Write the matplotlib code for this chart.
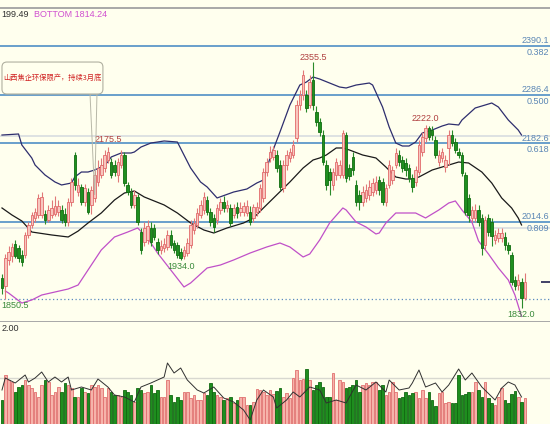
import numpy as np
import matplotlib
matplotlib.use("Agg")
import matplotlib.pyplot as plt
from matplotlib import font_manager
from matplotlib.patches import FancyBboxPatch, Polygon

# daily candles, oldest first
opens = [1896.0, 1878.9, 1934.3, 1942.8, 1968.4, 1959.9, 1945.0, 1945.0, 1987.6, 2008.9,
         2023.8, 2030.2, 2030.2, 2032.3, 2019.5, 2030.2, 2032.3, 2036.5, 2040.8, 2032.3,
         2015.2, 2057.9, 2157.9, 2079.1, 2089.8, 2057.9, 2079.1, 2051.5, 2066.4, 2100.5,
         2115.4, 2130.3,
         2147.3, 2143.0, 2136.6, 2115.4, 2136.6, 2157.9, 2094.1, 2079.1, 2051.5, 2068.5,
         1993.9, 1972.6, 1976.9, 2002.5, 2002.5, 1972.6, 1955.6, 1959.9, 1962.0, 1987.6,
         1970.5, 1966.3, 1951.3, 1942.8, 1949.2, 1966.3, 1998.2, 2008.9, 2030.2, 2040.8, 2062.1, 2036.5,
         2023.8, 2019.5, 2040.8, 2057.9, 2045.1, 2045.1, 2030.2, 2047.2, 2036.5, 2036.5,
         2034.4, 2036.5, 2023.8, 2036.5, 2045.1, 2066.4, 2121.7, 2151.6, 2153.7, 2157.9,
         2136.6, 2087.7, 2136.6, 2151.6, 2157.9, 2194.2, 2264.4, 2285.8, 2285.8, 2264.4,
         2317.7, 2249.5, 2228.2, 2200.5,
         2136.6, 2121.7, 2094.1, 2115.4, 2115.4, 2115.4, 2200.5, 2130.3, 2153.7, 2094.1,
         2072.8, 2057.9, 2066.4, 2072.8, 2079.1, 2083.4, 2104.7, 2100.5, 2057.9, 2094.1,
         2104.7, 2136.6, 2157.9, 2147.3, 2140.9, 2130.3, 2109.0, 2100.5, 2121.7, 2164.3, 2194.2,
         2215.5, 2211.2, 2189.9, 2143.0, 2151.6, 2132.4, 2172.9, 2200.5, 2185.6, 2164.3,
         2157.9, 2115.4, 2066.4, 2023.8, 2023.8, 2040.8, 2023.8, 1966.3, 2023.8, 2015.2,
         1976.9, 1981.2, 1981.2, 1983.3, 1966.3, 1945.0, 1891.7, 1881.0, 1887.4, 1853.4]
highs = [1904.5, 1947.0, 1964.1, 1970.5, 1976.9, 1966.3, 1955.6, 1993.9, 2015.2, 2036.5,
         2045.1, 2074.9, 2079.1, 2040.8, 2051.5, 2062.1, 2070.6, 2062.1, 2051.5, 2045.1,
         2066.4, 2109.0, 2164.3, 2109.0, 2096.2, 2096.2, 2087.7, 2091.9, 2126.0, 2147.3,
         2151.6, 2168.6,
         2175.5, 2151.6, 2147.3, 2151.6, 2168.6, 2164.3, 2100.5, 2087.7, 2083.4, 2074.9,
         2002.5, 2015.2, 2019.5, 2015.2, 2011.0, 1981.2, 1976.9, 1981.2, 1998.2, 1998.2,
         1976.9, 1972.6, 1959.9, 1964.1, 1981.2, 2019.5, 2023.8, 2045.1, 2062.1, 2079.1, 2070.6, 2045.1,
         2032.3, 2053.6, 2066.4, 2070.6, 2062.1, 2053.6, 2053.6, 2057.9, 2057.9, 2057.9,
         2062.1, 2049.3, 2053.6, 2057.9, 2096.2, 2130.3, 2151.6, 2177.1, 2177.1, 2168.6,
         2147.3, 2147.3, 2168.6, 2172.9, 2189.9, 2275.1, 2296.4, 2339.0, 2296.4, 2328.4,
         2355.5, 2262.3, 2236.8, 2211.2,
         2147.3, 2130.3, 2130.3, 2151.6, 2147.3, 2211.2, 2206.9, 2138.8, 2164.3, 2104.7,
         2083.4, 2091.9, 2096.2, 2104.7, 2109.0, 2113.2, 2113.2, 2109.0, 2096.2, 2147.3,
         2134.5, 2172.9, 2168.6, 2155.8, 2151.6, 2138.8, 2117.5, 2134.5, 2189.9, 2206.9, 2222.0,
         2219.7, 2219.7, 2198.4, 2168.6, 2172.9, 2157.9, 2211.2, 2211.2, 2194.2, 2172.9,
         2164.3, 2121.7, 2074.9, 2049.3, 2053.6, 2051.5, 2032.3, 2028.0, 2032.3, 2023.8,
         1998.2, 2002.5, 2002.5, 1993.9, 1972.6, 1951.3, 1900.2, 1904.5, 1896.0, 1906.6]
lows = [1862.0, 1850.5, 1923.6, 1930.0, 1938.6, 1930.0, 1921.5, 1938.6, 1981.2, 2002.5,
        2015.2, 2023.8, 2023.8, 2011.0, 2015.2, 2023.8, 2028.0, 2028.0, 2013.1, 2006.7,
        2006.7, 2049.3, 2083.4, 2070.6, 2051.5, 2049.3, 2032.3, 2032.3, 2057.9, 2091.9,
        2109.0, 2121.7,
        2140.9, 2109.0, 2113.2, 2100.5, 2130.3, 2091.9, 2072.8, 2045.1, 2045.1, 2008.9,
        1947.1, 1964.1, 1968.4, 1964.1, 1976.9, 1947.1, 1947.1, 1951.3, 1955.6, 1959.9,
        1949.2, 1938.6, 1934.0, 1936.5, 1942.8, 1959.9, 1989.7, 2002.5, 2023.8, 2032.3, 2030.2, 2006.7,
        1993.9, 2011.0, 2032.3, 2036.5, 2036.5, 2006.7, 2023.8, 2023.8, 2028.0, 2028.0,
        2028.0, 2008.9, 2015.2, 2028.0, 2036.5, 2057.9, 2113.2, 2143.0, 2147.3, 2121.7,
        2083.4, 2079.1, 2126.0, 2143.0, 2151.6, 2185.6, 2253.8, 2275.1, 2249.5, 2258.1,
        2253.8, 2219.7, 2198.4, 2136.6,
        2083.4, 2072.8, 2083.4, 2104.7, 2109.0, 2109.0, 2100.5, 2104.7, 2115.4, 2049.3,
        2040.8, 2049.3, 2057.9, 2062.1, 2070.6, 2074.9, 2072.8, 2051.5, 2049.3, 2087.7,
        2096.2, 2130.3, 2134.5, 2121.7, 2113.2, 2100.5, 2079.1, 2091.9, 2115.4, 2155.8, 2185.6,
        2189.9, 2189.9, 2151.6, 2134.5, 2143.0, 2121.7, 2136.6, 2177.1, 2162.2, 2151.6,
        2113.2, 2030.2, 2015.2, 2015.2, 2015.2, 2006.7, 1945.0, 1955.6, 1985.4, 1964.1,
        1968.4, 1972.6, 1972.6, 1955.6, 1947.1, 1881.0, 1870.4, 1870.4, 1832.0, 1849.1]
closes = [1874.7, 1938.6, 1951.3, 1962.0, 1942.8, 1938.6, 1930.0, 1987.6, 2008.9, 2030.2,
          2036.5, 2066.4, 2068.5, 2019.5, 2040.8, 2045.1, 2049.3, 2049.3, 2019.5, 2015.2,
          2057.9, 2100.5, 2094.1, 2094.1, 2057.9, 2087.7, 2036.5, 2083.4, 2115.4, 2130.3,
          2136.6, 2157.9,
          2164.3, 2115.4, 2121.7, 2143.0, 2157.9, 2098.3, 2079.1, 2051.5, 2072.8, 2015.2,
          1955.6, 2002.5, 2006.7, 1972.6, 1983.3, 1955.6, 1964.1, 1968.4, 1987.6, 1966.3,
          1955.6, 1945.0, 1938.6, 1955.6, 1970.5, 2008.9, 2013.1, 2034.4, 2051.5, 2068.5, 2036.5, 2015.2,
          2004.6, 2045.1, 2057.9, 2045.1, 2051.5, 2013.1, 2045.1, 2034.4, 2045.1, 2049.3,
          2049.3, 2015.2, 2047.2, 2047.2, 2087.7, 2121.7, 2143.0, 2164.3, 2168.6, 2130.3,
          2089.8, 2136.6, 2157.9, 2164.3, 2179.3, 2264.4, 2285.8, 2328.4, 2258.1, 2313.4,
          2264.4, 2228.2, 2206.9, 2143.0,
          2094.1, 2104.7, 2121.7, 2143.0, 2136.6, 2204.8, 2109.0, 2113.2, 2126.0, 2057.9,
          2057.9, 2079.1, 2083.4, 2089.8, 2098.3, 2100.5, 2083.4, 2057.9, 2087.7, 2136.6,
          2126.0, 2162.2, 2143.0, 2130.3, 2126.0, 2109.0, 2089.8, 2126.0, 2179.3, 2196.3, 2215.5,
          2196.3, 2200.5, 2157.9, 2157.9, 2164.3, 2147.3, 2200.5, 2183.5, 2168.6, 2157.9,
          2119.6, 2036.5, 2030.2, 2040.8, 2040.8, 2015.2, 1959.9, 2019.5, 1993.9, 1985.4,
          1987.6, 1991.8, 1991.8, 1966.3, 1955.6, 1887.4, 1878.9, 1891.7, 1853.4, 1887.4]

volumes = [24, 49, 44, 42, 32, 37, 39, 44, 39, 36,
           32, 27, 39, 44, 42, 29, 32, 37, 32, 41,
           39, 36, 27, 27, 36, 32, 31, 39, 37, 39,
           36, 27, 36, 32, 29, 29, 27, 34, 32, 29,
           22, 36, 34, 31, 32, 39, 31, 34, 27, 27,
           44, 29, 22, 27, 24, 32, 32, 26, 29, 24,
           24, 31, 29, 41, 32, 29, 27, 24, 26, 27,
           21, 24, 27, 27, 19, 19, 22, 35, 34, 32,
           29, 34, 30, 33,
           36, 27, 31, 26, 46, 54, 44, 45, 55, 44,
           34, 39, 42, 37, 27, 27, 51, 24, 44, 42,
           36, 37, 39, 44, 32, 39, 41, 39, 42, 42,
           34, 39, 29, 32, 42, 32, 26, 27, 32, 29,
           31, 32, 26, 34, 26, 32, 24, 18, 31, 32,
           21, 22, 21, 21, 49, 29, 30, 32, 32, 42,
           34, 27, 42, 26, 21, 19, 27, 36, 24, 21,
           30, 33, 27, 22, 26]

# volume average line (bar index, value)
vol_ma_idx = [0, 1, 4, 7, 8, 10, 12, 14, 16, 18, 20, 21, 24, 27, 29, 32, 34, 37, 40, 42,
              45, 47, 49, 50, 52, 54, 56, 59, 61, 64, 67, 70, 73, 75, 77, 79, 82,
              83, 86, 88, 90, 93, 96, 98, 101, 104, 107, 110, 113, 116, 117, 120, 123, 124,
              126, 128, 131, 133, 135, 138, 140, 142, 145, 149, 151, 153, 155, 157]
vol_ma = [34, 46, 41, 49, 42, 46, 52, 42, 47, 42, 47, 34, 37, 34, 45, 37, 29, 27, 22, 37,
          41, 44, 47, 61, 51, 56, 44, 34, 31, 37, 26, 22, 14, 4, 24, 34, 27,
          16, 24, 32, 27, 37, 34, 21, 24, 21, 39, 34, 42, 32, 44, 34, 36, 41,
          54, 37, 41, 32, 39, 55, 44, 51, 37, 24, 36, 42, 39, 27]

# channel lines (bar index, price)
upper_idx = [0, 5, 6, 9, 10, 13, 16, 18, 21, 22, 24, 26, 28, 30, 32, 33, 36, 39, 40, 42,
             45, 47, 49, 53, 55, 57, 60, 62, 65, 70, 74, 77, 79, 81, 84, 87, 90, 92, 94, 96,
             102, 104, 107, 111, 112, 115, 117, 119, 121, 123, 125, 127, 130, 133, 135, 138,
             139, 143, 145, 148, 150, 153, 156, 157]
upper = [2200.5, 2202.7, 2179.3, 2151.6, 2136.6, 2115.4, 2100.5, 2094.1, 2098.3, 2111.1,
         2121.7, 2121.7, 2126.0, 2132.4, 2143.0, 2153.7, 2162.2, 2162.2, 2164.3, 2174.9,
         2183.5, 2185.6, 2187.8, 2185.6, 2157.9, 2130.3, 2100.5, 2089.8, 2066.4, 2079.1,
         2085.5, 2098.3, 2104.7, 2151.6, 2206.9, 2264.4, 2307.0, 2313.4, 2324.1, 2319.8,
         2302.8, 2300.7, 2307.0, 2311.3, 2307.0, 2260.2, 2217.6, 2183.5, 2177.1, 2177.1,
         2185.6, 2204.8, 2211.2, 2219.7, 2224.0, 2221.9, 2232.5, 2258.1, 2262.3, 2268.7,
         2260.2, 2232.5, 2211.2, 2200.5]
mid_idx = [0, 3, 6, 9, 15, 20, 23, 26, 30, 34, 37, 40, 43, 49, 53, 57, 61, 64, 68, 73,
           76, 79, 83, 87, 91, 94, 96, 98, 101, 103, 105, 109, 113, 116, 119, 122, 124, 126,
           130, 135, 138, 141, 145, 148, 151, 154, 156, 157]
mid = [2045.1, 2030.2, 2017.4, 1993.9, 1987.6, 1983.3, 1995.9, 2013.1, 2034.4, 2062.1,
       2077.0, 2081.3, 2068.5, 2051.5, 2034.4, 2013.1, 1998.2, 1991.8, 2002.5, 2013.1,
       2023.8, 2045.1, 2072.8, 2100.5, 2130.3, 2147.3, 2151.6, 2157.9, 2172.9, 2172.9,
       2168.6, 2157.9, 2151.6, 2132.4, 2111.1, 2106.8, 2106.8, 2111.1, 2126.0, 2136.6,
       2143.0, 2140.9, 2121.7, 2098.3, 2066.4, 2045.1, 2023.8, 2008.9]
lower_idx = [1, 2, 6, 9, 12, 20, 23, 26, 30, 34, 38, 41, 44, 47, 51, 55, 57, 62, 66, 70,
             75, 80, 84, 87, 91, 93, 96, 99, 103, 104, 107, 110, 113, 114, 116, 119, 125,
             128, 132, 135, 137, 139, 142, 144, 147, 150, 153, 155, 157]
lower = [1868.3, 1863.9, 1842.6, 1849.1, 1859.7, 1872.5, 1881.0, 1913.0, 1955.6, 1983.3,
         1993.9, 2002.5, 1981.2, 1949.2, 1913.0, 1876.8, 1885.3, 1917.3, 1923.6, 1934.3,
         1949.2, 1962.0, 1970.5, 1962.0, 1940.7, 1947.1, 1976.9, 2013.1, 2045.1, 2040.8,
         2015.2, 2004.6, 1989.7, 1991.8, 2013.1, 2034.4, 2034.4, 2023.8, 2040.8, 2055.7,
         2060.0, 2040.8, 2015.2, 1974.8, 1947.1, 1917.3, 1891.7, 1859.7, 1814.2]

fib_levels = [2390.1, 2286.4, 2182.6, 2014.6]
fib_ratios = ["0.382", "0.500", "0.618", "0.809"]
grey_levels = [2198.4, 2002.5]
support_level = 1850.5

# marked extremes: bar index, price, text y
peaks = [(94, 2355.5, 2366.7), (32, 2175.5, 2190.9), (128, 2222.0, 2235.7)]
troughs = [(54, 1934.0, 1919.4), (157, 1832.0, 1817.2)]
first_low = (1850.5, 1836.3)

note_text = "山西焦企环保限产，持续3月底"
header_upper = "199.49"
header_bottom = "BOTTOM 1814.24"
vol_label = "2.00"

BG = "#FFFFEE"
UP_FACE, UP_EDGE = "#F8C6BE", "#E26A6A"
DN_FACE, DN_EDGE = "#1F8F1F", "#106C10"


def pick_font(names):
    for n in names:
        try:
            font_manager.findfont(n, fallback_to_default=False)
            return n
        except Exception:
            continue
    return "DejaVu Sans"


num_font = pick_font(["Liberation Sans Narrow", "Liberation Sans", "DejaVu Sans"])
cjk = ["Noto Sans CJK SC", "DejaVu Sans"]

o = np.array(opens)
h = np.array(highs)
l = np.array(lows)
c = np.array(closes)
n = len(c)
x = np.arange(n)
up = c >= o

fig = plt.figure(figsize=(5.5, 4.24), dpi=100, facecolor=BG)
ax = fig.add_axes([0, 1 - 322 / 424, 1, 314 / 424])
axv = fig.add_axes([0, 0, 1, 1 - 322 / 424])

xmin, xmax = -0.6, 165.6
for a in (ax, axv):
    a.set_facecolor(BG)
    a.set_xlim(xmin, xmax)
    a.set_xticks([])
    a.set_yticks([])
    for s in a.spines.values():
        s.set_visible(False)

ax.set_ylim(1802.2, 2471.1)
for side in ("top", "bottom"):
    ax.spines[side].set_visible(True)
    ax.spines[side].set_color("#A8A8A8")
    ax.spines[side].set_linewidth(1.4)

yt = ax.get_yaxis_transform()

# reference levels
for lv in grey_levels:
    ax.axhline(lv, color="#D8DDE0", lw=1.2, zorder=1)
for lv, r in zip(fib_levels, fib_ratios):
    ax.axhline(lv, color="#4F8FC6", lw=1.2, zorder=1)
    ax.text(0.998, lv + 11.5, f"{lv:.1f}", transform=yt, color="#5A86B5", fontsize=6.5,
            family=num_font, va="center", ha="right")
    ax.text(0.998, lv - 13.5, r, transform=yt, color="#5A86B5", fontsize=6.5,
            family=num_font, va="center", ha="right")
ax.axhline(support_level, color="#5A8AC0", lw=0.9, ls=(0, (1, 2)), zorder=1)

# channel
ax.plot(upper_idx, upper, color="#2E2E6E", lw=0.9, zorder=2)
ax.plot(mid_idx, mid, color="#1A1A1A", lw=0.9, zorder=2)
ax.plot(lower_idx, lower, color="#C050C8", lw=0.9, zorder=2)

# candles
wick_col = np.where(up, "#E07878", "#2A8A2A")
ax.vlines(x, l, h, colors=wick_col, lw=0.8, zorder=3)
body_lo = np.minimum(o, c)
body_h = np.maximum(np.abs(c - o), 1.5)
ax.bar(x[up], body_h[up], bottom=body_lo[up], width=0.76,
       color=UP_FACE, edgecolor=UP_EDGE, linewidth=0.6, zorder=4)
ax.bar(x[~up], body_h[~up], bottom=body_lo[~up], width=0.76,
       color=DN_FACE, edgecolor=DN_EDGE, linewidth=0.6, zorder=4)

# last price marker
ax.hlines(c[-1], 162.8, xmax, color="#202050", lw=1.2, zorder=3)

for i, p, ty in peaks:
    ax.text(i, ty, f"{p:.1f}", color="#B04040", fontsize=6.5, family=num_font,
            ha="center", va="center", zorder=6)
for i, p, ty in troughs:
    ax.text(i, ty, f"{p:.1f}", color="#3A8A3A", fontsize=6.5, family=num_font,
            ha="center", va="center", zorder=6)
ax.text(0.002, first_low[1], f"{first_low[0]:.1f}", transform=yt, color="#3A8A3A",
        fontsize=6.5, family=num_font, ha="left", va="center", zorder=6)

# news note with pointer
ptr = Polygon([(26.6, 2287.9), (28.0, 2072.8), (28.7, 2287.9)], closed=True,
              facecolor="none", edgecolor="#B8B8A8", lw=0.7, zorder=6)
ax.add_patch(ptr)
box = FancyBboxPatch((0.0, 2287.9), 30.5, 68.1,
                     boxstyle="round,pad=0,rounding_size=1.5", mutation_aspect=7.0,
                     facecolor=BG, edgecolor="#B0B0A0", lw=0.8, zorder=7)
ax.add_patch(box)
ax.text(15.2, 2322.0, note_text, color="#D02020", fontsize=5.2, family=cjk,
        ha="center", va="center", zorder=8)

ax.text(0.002, 0.978, header_upper, transform=ax.transAxes, color="#303030",
        fontsize=6.5, family=num_font, va="center", ha="left")
ax.text(0.062, 0.978, header_bottom, transform=ax.transAxes, color="#D050D0",
        fontsize=6.5, family=num_font, va="center", ha="left")

# volume panel
v = np.array(volumes[:n])
axv.set_ylim(0, 102)
axv.axhline(46, color="#D8D8D0", lw=1.0, zorder=1)
axv.bar(x[up], v[up], width=0.78, color="#F6B3AA", edgecolor="#E07070",
        linewidth=0.6, zorder=2)
axv.bar(x[~up], v[~up], width=0.78, color="#1E8E1E", edgecolor="#106810",
        linewidth=0.6, zorder=2)
axv.plot(vol_ma_idx, vol_ma, color="#303030", lw=0.7, zorder=3)
axv.text(0.002, 0.94, vol_label, transform=axv.transAxes, color="#303030",
         fontsize=6.5, family=num_font, va="center", ha="left")

fig.savefig("out.png", dpi=100, facecolor=BG)
